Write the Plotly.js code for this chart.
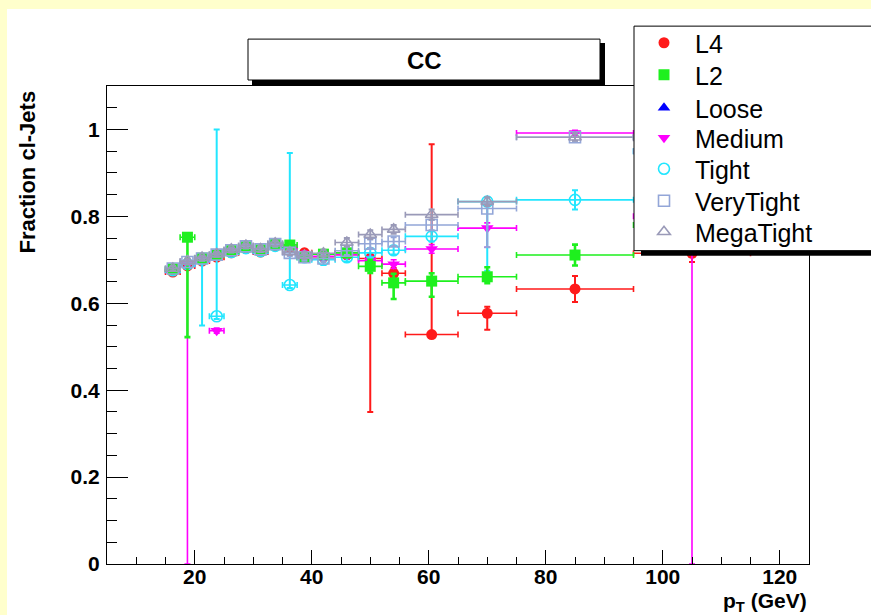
<!DOCTYPE html>
<html><head><meta charset="utf-8">
<script src="https://cdn.plot.ly/plotly-3.0.1.min.js"></script>
<style>
html,body{margin:0;padding:0;background:#ffffcc;width:871px;height:615px;overflow:hidden;}
#chart{position:absolute;left:7px;top:9px;width:864px;height:606px;background:#fff;}
</style></head><body><div id="chart"></div>
<script>
// ---- data (pT bins in GeV) ----
const ptCenter = [16.25, 18.75, 21.25, 23.75, 26.25, 28.75, 31.25, 33.75, 36.25, 38.75, 42, 46, 50, 54, 60.5, 70, 85, 105];
const ptHalfWidth = [1.25, 1.25, 1.25, 1.25, 1.25, 1.25, 1.25, 1.25, 1.25, 1.25, 2, 2, 2, 2, 4.5, 5, 10, 10];

const l4Frac  = [0.672,0.686,0.697,0.706,0.716,0.726,0.718,0.732,0.729,0.716,0.707,0.712,0.703,0.669,0.528,0.577,0.633,0.715];
const l4ErrUp = [0.005,0.006,0.005,0.005,0.005,0.005,0.006,0.006,0.007,0.008,0.008,0.010,0.010,0.012,0.438,0.015,0.030,0.020];
const l4ErrDn = [0.005,0.006,0.005,0.005,0.005,0.005,0.006,0.006,0.007,0.008,0.008,0.010,0.353,0.012,0.006,0.038,0.030,0.020];

const l2Frac  = [0.679,0.752,0.704,0.711,0.721,0.730,0.723,0.735,0.734,0.706,0.713,0.716,0.685,0.647,0.651,0.661,0.711,0.780];
const l2ErrUp = [0.005,0.008,0.005,0.005,0.005,0.005,0.006,0.006,0.007,0.008,0.009,0.010,0.015,0.021,0.018,0.022,0.024,0.020];
const l2ErrDn = [0.005,0.230,0.005,0.005,0.005,0.005,0.006,0.006,0.007,0.008,0.009,0.010,0.015,0.037,0.036,0.015,0.024,0.020];

// Loose: no visible points in the reference
const loosePt = [null];
const looseFrac = [null];

const mediumFrac  = [0.676,0.690,0.700,0.537,0.718,0.727,0.720,0.733,0.730,0.712,0.708,0.712,0.698,0.690,0.725,0.773,0.992,0.800];
const mediumErrUp = [0.005,0.006,0.005,0.006,0.005,0.005,0.006,0.006,0.007,0.008,0.008,0.010,0.010,0.010,0.010,0.012,0.006,0.020];
const mediumErrDn = [0.005,0.690,0.005,0.006,0.005,0.005,0.006,0.006,0.007,0.008,0.008,0.010,0.010,0.010,0.010,0.044,0.006,0.800];

const tightFrac  = [0.676,0.690,0.701,0.570,0.718,0.727,0.720,0.732,0.642,0.706,0.700,0.706,0.716,0.722,0.754,0.834,0.838,0.950];
const tightErrUp = [0.005,0.006,0.005,0.430,0.005,0.005,0.006,0.006,0.304,0.008,0.008,0.010,0.010,0.010,0.012,0.010,0.022,0.020];
const tightErrDn = [0.005,0.006,0.152,0.006,0.005,0.005,0.006,0.006,0.007,0.008,0.012,0.010,0.010,0.010,0.012,0.159,0.022,0.020];

const veryTightFrac  = [0.680,0.695,0.703,0.712,0.722,0.731,0.724,0.736,0.716,0.706,0.703,0.721,0.737,0.742,0.780,0.818,0.982,0.950];
const veryTightErrUp = [0.005,0.006,0.005,0.005,0.005,0.005,0.006,0.006,0.007,0.008,0.008,0.010,0.010,0.010,0.012,0.010,0.008,0.020];
const veryTightErrDn = [0.005,0.006,0.005,0.005,0.005,0.005,0.006,0.006,0.007,0.008,0.008,0.010,0.010,0.010,0.012,0.089,0.008,0.020];

const megaTightFrac  = [0.680,0.697,0.705,0.713,0.724,0.733,0.725,0.738,0.718,0.710,0.715,0.740,0.758,0.770,0.804,0.834,0.982,0.980];
const megaTightErrUp = [0.005,0.006,0.005,0.005,0.005,0.005,0.006,0.006,0.007,0.008,0.008,0.010,0.010,0.010,0.012,0.010,0.008,0.020];
const megaTightErrDn = [0.005,0.006,0.005,0.005,0.005,0.005,0.006,0.006,0.007,0.008,0.008,0.010,0.010,0.010,0.012,0.010,0.008,0.020];

const xTickVals = [20, 40, 60, 80, 100, 120];
const yTickVals = [0, 0.2, 0.4, 0.6, 0.8, 1];
const yTickText = ['0', '0.2', '0.4', '0.6', '0.8', '1'];

// ---- styling ----
const FONT = 'Liberation Sans, Arial, Helvetica, sans-serif';
// page-pixel -> paper helpers (plot area: x 107..809, y 85..564 on page)
const PL = 107, PR = 809, PT = 85, PB = 564;
const px = v => (v - PL) / (PR - PL);
const py = v => (PB - v) / (PB - PT);

function series(name, x, y, up, dn, color, symbol, legendId, vThick) {
  return {
    type: 'scatter', mode: 'markers', name: name, x: x, y: y, legend: legendId,
    marker: {symbol: symbol, size: 11, color: color, line: {color: color, width: symbol.indexOf('open') >= 0 ? 1.6 : 0}},
    error_x: {type: 'data', array: ptHalfWidth, color: color, thickness: 1.6, width: 3},
    error_y: {type: 'data', symmetric: false, array: up, arrayminus: dn, color: color, thickness: vThick, width: 3},
    cliponaxis: true, hoverinfo: 'skip'
  };
}
const cRed = '#ff1a1a', cGreen = '#1ef01e', cBlue = '#0000ff', cMag = '#ff00ff',
      cCyan = '#22e6ff', cVT = '#93a6d8', cMT = '#9a9ab8';
const traces = [
  series('L4', ptCenter, l4Frac, l4ErrUp, l4ErrDn, cRed, 'circle', 'legend', 2),
  series('Loose', loosePt, looseFrac, [0], [0], cBlue, 'triangle-up', 'legend3', 2),
  series('Medium', ptCenter, mediumFrac, mediumErrUp, mediumErrDn, cMag, 'triangle-down', 'legend4', 1.6),
  series('Tight', ptCenter, tightFrac, tightErrUp, tightErrDn, cCyan, 'circle-open', 'legend5', 2),
  series('L2', ptCenter, l2Frac, l2ErrUp, l2ErrDn, cGreen, 'square', 'legend2', 2.6),
  series('VeryTight', ptCenter, veryTightFrac, veryTightErrUp, veryTightErrDn, cVT, 'square-open', 'legend6', 2),
  series('MegaTight', ptCenter, megaTightFrac, megaTightErrUp, megaTightErrDn, cMT, 'triangle-up-open', 'legend7', 2)
];

function rect(x0, y0, x1, y1, fill, lineW) {
  return {type: 'rect', xref: 'paper', yref: 'paper', layer: 'above',
    x0: px(x0), x1: px(x1), y0: py(y1), y1: py(y0),
    fillcolor: fill, line: {color: '#000', width: lineW}};
}
function legendAt(yc) {
  return {x: px(633), y: py(yc), xanchor: 'left', yanchor: 'middle', itemwidth: 52,
    bgcolor: 'rgba(0,0,0,0)', borderwidth: 0, font: {family: FONT, size: 25, color: '#000'},
    itemclick: false, itemdoubleclick: false};
}

const layout = {
  width: 864, height: 606,
  margin: {l: PL - 7, r: 864 - (PR - 7), t: PT - 9, b: 606 - (PB - 9), pad: 0},
  paper_bgcolor: '#ffffff', plot_bgcolor: '#ffffff',
  font: {family: FONT, color: '#000'},
  showlegend: true,
  legend: legendAt(43), legend2: legendAt(75), legend3: legendAt(108), legend4: legendAt(138),
  legend5: legendAt(169), legend6: legendAt(201), legend7: legendAt(232),
  xaxis: {range: [5, 125], tickmode: 'array', tickvals: xTickVals, ticktext: xTickVals.map(String),
    ticks: 'inside', ticklen: 14, tickwidth: 1, tickcolor: '#000',
    minor: {dtick: 5, tick0: 0, ticks: 'inside', ticklen: 7, tickcolor: '#000', tickwidth: 1, showgrid: false},
    showline: true, linecolor: '#000', linewidth: 1, mirror: true, showgrid: false, zeroline: false,
    tickfont: {family: FONT, size: 21, weight: 'bold'}, ticklabelstandoff: -6},
  yaxis: {range: [0, 1.1], tickmode: 'array', tickvals: yTickVals, ticktext: yTickText,
    ticks: 'inside', ticklen: 21, tickwidth: 1, tickcolor: '#000',
    minor: {dtick: 0.05, tick0: 0, ticks: 'inside', ticklen: 10, tickcolor: '#000', tickwidth: 1, showgrid: false},
    showline: true, linecolor: '#000', linewidth: 1, mirror: true, showgrid: false, zeroline: false,
    tickfont: {family: FONT, size: 21, weight: 'bold'}, ticklabelstandoff: 2},
  shapes: [
    rect(252, 42, 605, 84, '#000', 0),
    rect(248, 38, 600, 79, '#fff', 1),
    rect(641, 30, 920, 255, '#000', 0),
    rect(634, 25, 915, 250, '#fff', 1)
  ],
  annotations: [
    {text: '<b>CC</b>', xref: 'paper', yref: 'paper', x: px(424), y: py(59), xanchor: 'center', yanchor: 'middle',
      showarrow: false, font: {family: FONT, size: 24, color: '#000'}},
    {text: '<b>Fraction cl-Jets</b>', xref: 'paper', yref: 'paper', x: px(27), y: py(88), xanchor: 'center', yanchor: 'top',
      textangle: -90, showarrow: false, font: {family: FONT, size: 22, color: '#000'}},
    {text: '<b>p<sub>T</sub> (GeV)</b>', xref: 'paper', yref: 'paper', x: px(809), y: py(602), xanchor: 'right', yanchor: 'middle',
      showarrow: false, font: {family: FONT, size: 21, color: '#000'}}
  ]
};
Plotly.newPlot('chart', traces, layout, {staticPlot: true, displayModeBar: false});
</script></body></html>
